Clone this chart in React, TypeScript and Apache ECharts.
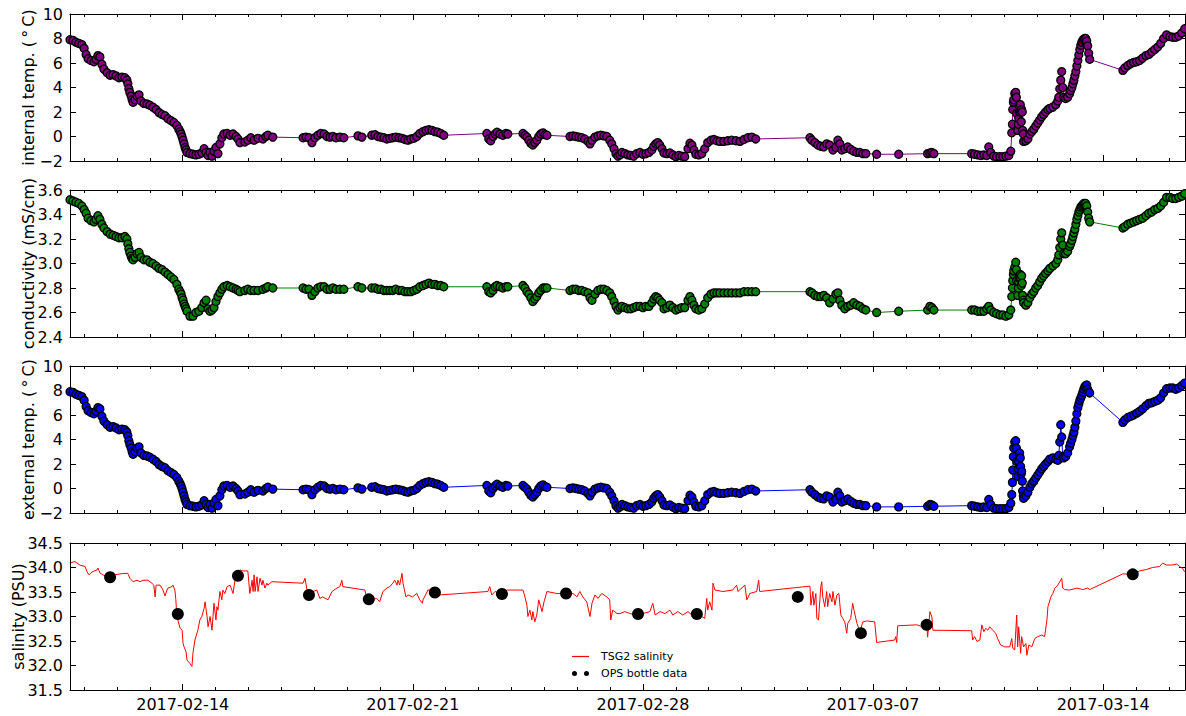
import React, { useEffect, useRef } from "react";
import * as echarts from "echarts";

// Time is counted in "February days": 14 = 2017-02-14 00:00, 29 = 2017-03-01, 42 = 2017-03-14
const X_MIN = 10.57;
const X_MAX = 44.49;
const weekTickDays = [14, 21, 28, 35, 42];
const dayTickDays = [11, 12, 13, 14, 15, 16, 17, 18, 19, 20, 21, 22, 23, 24, 25, 26, 27, 28, 29, 30, 31, 32, 33, 34, 35, 36, 37, 38, 39, 40, 41, 42, 43, 44];

// TSG sample times (shared by internal temp., conductivity and external temp.)
const sampleDays = [
  // A
  10.57, 10.66, 10.75, 10.84, 10.93, 11.0, 11.06, 11.12, 11.21, 11.3,
  11.36, 11.42, 11.48, 11.54, 11.6, 11.7, 11.79, 11.88, 11.97, 12.06,
  12.15, 12.24, 12.3, 12.36, 12.43, 12.49, 12.55, 12.61, 12.67, 12.73,
  12.82, 12.91, 13.0, 13.09, 13.19, 13.28, 13.37, 13.46, 13.55, 13.64,
  13.73, 13.82, 13.88, 13.95, 14.01, 14.07, 14.13, 14.22, 14.31, 14.4,
  14.49, 14.58, 14.65, 14.71, 14.77, 14.83, 14.89, 14.95, 15.01, 15.07,
  15.13, 15.19, 15.25, 15.35, 15.44, 15.53, 15.62, 15.68, 15.74, 15.89,
  15.98, 16.07, 16.17, 16.29, 16.44, 16.53, 16.59, 16.74,
  // B
  17.66, 17.75, 17.84, 17.93, 18.02, 18.11, 18.2, 18.3, 18.39, 18.48, 18.57, 18.66, 18.78, 18.9,
  // C
  19.33, 19.45, 19.75, 19.85, 19.94, 20.03, 20.12, 20.21, 20.3, 20.39,
  20.48, 20.58, 20.67, 20.76, 20.85, 20.94, 21.03, 21.12, 21.21, 21.31,
  21.4, 21.49, 21.58, 21.67, 21.76, 21.85, 21.94,
  // D
  23.25, 23.31, 23.37, 23.44, 23.5, 23.56, 23.65, 23.74, 23.83, 23.89,
  // E
  24.35, 24.41, 24.47, 24.53, 24.59, 24.65, 24.71, 24.77, 24.83, 24.89, 24.96, 25.02, 25.08,
  // F
  25.78, 25.87, 25.96, 26.05, 26.14, 26.23, 26.33, 26.39, 26.45, 26.54,
  26.63, 26.72, 26.81, 26.9, 26.99, 27.05, 27.12, 27.18, 27.24, 27.3,
  27.36, 27.45, 27.54, 27.63, 27.72, 27.81, 27.91, 28.0, 28.09, 28.18,
  28.27, 28.33, 28.39, 28.45, 28.51, 28.58, 28.64, 28.73, 28.82, 28.91,
  29.0, 29.09, 29.18, 29.27, 29.37, 29.43, 29.49, 29.55, 29.61, 29.7,
  29.79, 29.88, 29.97, 30.07, 30.16, 30.25, 30.34, 30.46, 30.58, 30.7,
  30.83, 30.95, 31.07, 31.19, 31.31, 31.43,
  // G
  33.08, 33.14, 33.23, 33.32, 33.41, 33.5, 33.59, 33.68, 33.78, 33.87,
  33.93, 33.99, 34.05, 34.14, 34.23, 34.32, 34.41, 34.51, 34.6, 34.69, 34.78,
  // sparse
  35.11, 35.78, 36.66, 36.73, 36.79, 36.85,
  // H
  38.0, 38.09, 38.19, 38.28, 38.37, 38.46, 38.52, 38.58, 38.67, 38.76,
  38.86, 38.95, 39.04, 39.13, 39.19, 39.22, 39.24, 39.25, 39.27, 39.28,
  39.31, 39.34, 39.36, 39.37, 39.4, 39.42, 39.43, 39.45, 39.46, 39.48,
  39.49, 39.51, 39.52, 39.54, 39.55, 39.57, 39.58, 39.65, 39.71, 39.77,
  39.83, 39.89, 39.95, 40.01, 40.07, 40.13, 40.19, 40.25, 40.32, 40.38,
  40.47, 40.56, 40.62, 40.65, 40.68, 40.71, 40.74, 40.77, 40.8, 40.86,
  40.92, 40.98, 41.05, 41.11, 41.17, 41.23, 41.29, 41.35, 41.41, 41.47,
  41.5, 41.53, 41.56, 41.59,
  // I
  42.6, 42.66, 42.75, 42.84, 42.93, 43.02, 43.11, 43.2, 43.3, 43.39,
  43.48, 43.57, 43.66, 43.75, 43.84, 43.93, 44.03, 44.12, 44.21, 44.3, 44.39, 44.48,
  // extra samples in the steep stretches
  12.33, 12.39, 12.46, 13.92, 13.98, 14.04, 14.1,
  41.01, 41.08, 41.14, 41.2, 41.26, 41.32, 41.38, 41.44,
];

const internalTemp = [
  // A
  7.9, 7.85, 7.7, 7.6, 7.5, 7.2, 6.7, 6.35, 6.2, 6.1,
  6.3, 6.6, 6.5, 5.9, 5.5, 5.2, 5.0, 5.05, 4.95, 4.8,
  4.85, 4.8, 4.6, 3.9, 3.3, 2.8, 3.0, 3.3, 3.4, 2.9,
  2.7, 2.65, 2.55, 2.4, 2.2, 1.95, 1.8, 1.7, 1.45, 1.3,
  1.15, 0.9, 0.6, 0.2, -0.3, -0.9, -1.3, -1.4, -1.45, -1.5,
  -1.45, -1.35, -1.0, -1.3, -1.55, -1.3, -1.6, -1.2, -0.9, -1.4,
  -0.6, -0.1, 0.2, 0.25, 0.1, 0.2, 0.0, -0.2, -0.5, -0.45,
  -0.3, -0.1, -0.3, -0.15, -0.2, 0.0, 0.1, -0.05,
  // B
  -0.1, -0.05, -0.1, -0.5, -0.1, 0.1, 0.25, 0.2, 0.0, -0.05, 0.0, -0.1, -0.05, -0.1,
  // C
  0.05, -0.05, 0.1, 0.15, 0.0, -0.05, -0.1, -0.2, -0.15, -0.1,
  -0.05, -0.1, -0.15, -0.25, -0.3, -0.2, -0.15, 0.0, 0.25, 0.4,
  0.5, 0.55, 0.5, 0.4, 0.35, 0.25, 0.1,
  // D
  0.25, -0.2, -0.35, 0.0, 0.2, 0.35, 0.2, 0.1, 0.25, 0.2,
  // E
  0.25, 0.1, -0.05, -0.3, -0.55, -0.7, -0.5, -0.3, 0.0, 0.2, 0.3, 0.15, 0.1,
  // F
  0.0, 0.05, 0.0, -0.05, -0.1, -0.2, -0.4, -0.6, -0.3, -0.05,
  0.05, 0.1, 0.05, 0.0, -0.3, -0.6, -1.0, -1.4, -1.6, -1.5,
  -1.3, -1.4, -1.5, -1.55, -1.6, -1.4, -1.3, -1.45, -1.4, -1.3,
  -1.1, -0.8, -0.6, -0.5, -0.7, -1.0, -1.35, -1.4, -1.35, -1.5,
  -1.65, -1.55, -1.6, -1.65, -1.0, -0.55, -0.7, -1.1, -1.45, -1.5,
  -1.4, -1.0, -0.5, -0.3, -0.25, -0.35, -0.4, -0.4, -0.35, -0.3,
  -0.35, -0.4, -0.25, -0.1, -0.05, -0.2,
  // G
  -0.1, -0.3, -0.5, -0.7, -0.8, -0.85, -0.6, -0.7, -1.1, -0.9,
  -0.3, -0.6, -1.1, -1.0, -0.85, -1.05, -1.2, -1.3, -1.3, -1.4, -1.4,
  // sparse
  -1.45, -1.45, -1.4, -1.35, -1.3, -1.4,
  // H
  -1.4, -1.45, -1.5, -1.55, -1.5, -1.55, -0.85, -1.3, -1.6, -1.65,
  -1.65, -1.65, -1.6, -1.55, -1.2, 0.3, 1.0, 2.2, 2.8, 3.0,
  3.5, 3.6, 3.2, 1.9, 0.5, 1.0, 1.5, 2.0, 2.4, 2.6,
  2.0, 1.2, 2.2, 2.0, 0.5, 0.2, -0.4, -0.35, -0.2, 0.2,
  0.4, 0.6, 0.85, 1.1, 1.35, 1.6, 1.8, 2.0, 2.2, 2.3,
  2.4, 2.6, 2.9, 3.2, 3.9, 4.6, 5.3, 4.0, 3.2, 3.1,
  3.2, 3.5, 4.0, 4.6, 5.3, 6.2, 7.1, 7.7, 7.95, 8.0,
  7.8, 7.4, 6.8, 6.3,
  // I
  5.4, 5.6, 5.8, 5.95, 6.05, 6.1, 6.2, 6.4, 6.6, 6.7,
  6.9, 7.1, 7.3, 7.6, 8.0, 8.3, 8.15, 8.1, 8.1, 8.2, 8.45, 8.8,
  // extra
  4.3, 3.6, 3.0, 0.4, -0.05, -0.6, -1.1,
  3.75, 4.3, 4.95, 5.75, 6.65, 7.45, 7.85, 8.0,
];

const conductivity = [
  // A
  3.52, 3.51, 3.5, 3.49, 3.47, 3.44, 3.41, 3.37, 3.35, 3.34,
  3.36, 3.39, 3.36, 3.32, 3.29, 3.26, 3.24, 3.23, 3.22, 3.21,
  3.21, 3.22, 3.2, 3.12, 3.06, 3.03, 3.05, 3.08, 3.09, 3.05,
  3.03, 3.03, 3.01, 3.0, 2.98, 2.96, 2.95, 2.93, 2.91, 2.89,
  2.87, 2.83, 2.79, 2.75, 2.7, 2.65, 2.61, 2.57, 2.57, 2.6,
  2.61, 2.64, 2.68, 2.7, 2.63, 2.61, 2.62, 2.64, 2.69, 2.73,
  2.76, 2.79, 2.81, 2.82, 2.81, 2.8, 2.79, 2.78, 2.77, 2.78,
  2.79, 2.78, 2.78, 2.78, 2.79, 2.8, 2.81, 2.8,
  // B
  2.8, 2.79, 2.79, 2.74, 2.77, 2.8, 2.81, 2.81, 2.79, 2.79, 2.8, 2.79, 2.79, 2.79,
  // C
  2.81, 2.8, 2.8, 2.8, 2.79, 2.79, 2.78, 2.78, 2.78, 2.78,
  2.79, 2.78, 2.78, 2.77, 2.77, 2.77, 2.78, 2.79, 2.81, 2.82,
  2.83, 2.84, 2.83, 2.83, 2.82, 2.82, 2.81,
  // D
  2.81, 2.77, 2.76, 2.78, 2.81, 2.82, 2.81, 2.8, 2.81, 2.81,
  // E
  2.82, 2.8, 2.77, 2.75, 2.72, 2.69, 2.71, 2.73, 2.76, 2.78, 2.8, 2.8, 2.8,
  // F
  2.78, 2.79, 2.79, 2.78, 2.78, 2.77, 2.76, 2.72, 2.7, 2.75,
  2.78, 2.79, 2.79, 2.78, 2.76, 2.73, 2.69, 2.65, 2.62, 2.64,
  2.65, 2.64, 2.63, 2.63, 2.64, 2.65, 2.65, 2.64, 2.65, 2.65,
  2.68, 2.71, 2.73, 2.72, 2.7, 2.68, 2.63, 2.64, 2.66, 2.64,
  2.62, 2.63, 2.64, 2.64, 2.7, 2.73, 2.7, 2.66, 2.63, 2.62,
  2.63, 2.67, 2.72, 2.75, 2.76, 2.76, 2.76, 2.76, 2.76, 2.76,
  2.76, 2.76, 2.77, 2.77, 2.77, 2.77,
  // G
  2.77, 2.76, 2.74, 2.73, 2.73, 2.74, 2.72, 2.68, 2.71, 2.75,
  2.76, 2.7, 2.66, 2.63, 2.65, 2.66, 2.68, 2.66, 2.65, 2.63, 2.62,
  // sparse
  2.6, 2.61, 2.62, 2.65, 2.64, 2.62,
  // H
  2.62, 2.62, 2.61, 2.61, 2.61, 2.63, 2.65, 2.62, 2.6, 2.59,
  2.58, 2.58, 2.57, 2.58, 2.62, 2.73, 2.8, 2.86, 2.91, 2.94,
  2.97, 3.01, 2.95, 2.86, 2.74, 2.8, 2.85, 2.88, 2.9, 2.91,
  2.88, 2.82, 2.9, 2.84, 2.74, 2.7, 2.68, 2.66, 2.68, 2.72,
  2.75, 2.77, 2.8, 2.82, 2.85, 2.88, 2.9, 2.92, 2.94, 2.96,
  2.98, 3.0, 3.03, 3.07, 3.13, 3.2, 3.25, 3.15, 3.08, 3.08,
  3.1, 3.14, 3.19, 3.25, 3.32, 3.39, 3.44, 3.47, 3.49, 3.49,
  3.47, 3.42, 3.37, 3.34,
  // I
  3.29, 3.3, 3.32, 3.33, 3.34, 3.35, 3.36, 3.37, 3.39, 3.41,
  3.42, 3.44, 3.45, 3.47, 3.5, 3.54, 3.54, 3.53, 3.53, 3.54, 3.55, 3.57,
  // extra
  3.16, 3.09, 3.04, 2.77, 2.72, 2.67, 2.63,
  3.16, 3.22, 3.28, 3.36, 3.42, 3.46, 3.48, 3.49,
];

const externalTemp = [
  // A
  7.9, 7.85, 7.7, 7.6, 7.5, 7.2, 6.7, 6.35, 6.2, 6.1,
  6.3, 6.6, 6.5, 5.9, 5.5, 5.2, 5.0, 5.05, 4.95, 4.8,
  4.85, 4.8, 4.6, 3.9, 3.3, 2.8, 3.0, 3.3, 3.4, 2.9,
  2.7, 2.65, 2.55, 2.4, 2.2, 1.95, 1.8, 1.7, 1.45, 1.3,
  1.15, 0.9, 0.6, 0.2, -0.3, -0.9, -1.3, -1.4, -1.45, -1.5,
  -1.45, -1.35, -1.0, -1.3, -1.55, -1.3, -1.6, -1.2, -0.9, -1.4,
  -0.6, -0.1, 0.2, 0.25, 0.1, 0.2, 0.0, -0.2, -0.5, -0.45,
  -0.3, -0.1, -0.3, -0.15, -0.2, 0.0, 0.1, -0.05,
  // B
  -0.1, -0.05, -0.1, -0.5, -0.1, 0.1, 0.25, 0.2, 0.0, -0.05, 0.0, -0.1, -0.05, -0.1,
  // C
  0.05, -0.05, 0.1, 0.15, 0.0, -0.05, -0.1, -0.2, -0.15, -0.1,
  -0.05, -0.1, -0.15, -0.25, -0.3, -0.2, -0.15, 0.0, 0.25, 0.4,
  0.5, 0.55, 0.5, 0.4, 0.35, 0.25, 0.1,
  // D
  0.25, -0.2, -0.35, 0.0, 0.2, 0.35, 0.2, 0.1, 0.25, 0.2,
  // E
  0.25, 0.1, -0.05, -0.3, -0.55, -0.7, -0.5, -0.3, 0.0, 0.2, 0.3, 0.15, 0.1,
  // F
  0.0, 0.05, 0.0, -0.05, -0.1, -0.2, -0.4, -0.6, -0.3, -0.05,
  0.05, 0.1, 0.05, 0.0, -0.3, -0.6, -1.0, -1.4, -1.6, -1.5,
  -1.3, -1.4, -1.5, -1.55, -1.6, -1.4, -1.3, -1.45, -1.4, -1.3,
  -1.1, -0.8, -0.6, -0.5, -0.7, -1.0, -1.35, -1.4, -1.35, -1.5,
  -1.65, -1.55, -1.6, -1.65, -1.0, -0.55, -0.7, -1.1, -1.45, -1.5,
  -1.4, -1.0, -0.5, -0.3, -0.25, -0.35, -0.4, -0.4, -0.35, -0.3,
  -0.35, -0.4, -0.25, -0.1, -0.05, -0.2,
  // G
  -0.1, -0.3, -0.5, -0.7, -0.8, -0.85, -0.6, -0.7, -1.1, -0.9,
  -0.3, -0.6, -1.1, -1.0, -0.85, -1.05, -1.2, -1.3, -1.3, -1.4, -1.4,
  // sparse
  -1.5, -1.5, -1.45, -1.3, -1.35, -1.45,
  // H
  -1.4, -1.45, -1.5, -1.55, -1.5, -1.55, -0.9, -1.3, -1.6, -1.65,
  -1.65, -1.65, -1.65, -1.55, -1.2, -0.5, 0.5, 1.5, 2.6, 3.3,
  3.8, 3.9, 3.3, 2.2, 1.0, 1.6, 2.2, 2.7, 2.9, 2.5,
  1.8, 1.2, 1.4, 0.6, -0.2, -0.6, -0.8, -0.6, -0.3, 0.1,
  0.4, 0.6, 0.85, 1.1, 1.35, 1.6, 1.8, 2.0, 2.2, 2.4,
  2.5, 2.4, 2.3, 2.7, 3.8, 5.2, 4.2, 2.6, 2.5, 2.6,
  2.9, 3.4, 4.0, 4.6, 5.5, 6.6, 7.2, 7.6, 8.1, 8.4,
  8.45, 8.1, 7.9, 7.8,
  // I
  5.4, 5.6, 5.8, 5.9, 6.0, 6.15, 6.3, 6.5, 6.75, 6.95,
  7.0, 7.1, 7.2, 7.4, 7.8, 8.15, 8.2, 8.2, 8.1, 8.2, 8.4, 8.6,
  // extra
  4.3, 3.6, 3.0, 0.4, -0.05, -0.6, -1.1,
  3.7, 4.3, 5.0, 6.1, 6.9, 7.4, 7.85, 8.3,
];

// TSG2 salinity record
const salinityDays = [
  10.6, 10.72, 10.87, 11.03, 11.09, 11.15, 11.24, 11.39, 11.42, 11.48,
  11.57, 11.73, 11.94, 12.09, 12.24, 12.33, 12.39, 12.49, 12.61, 12.7,
  12.79, 12.94, 13.06, 13.12, 13.16, 13.19, 13.31, 13.4, 13.46, 13.52,
  13.55, 13.67, 13.7, 13.76, 13.79, 13.82, 13.85, 13.92, 13.98, 14.01,
  14.04, 14.1, 14.13, 14.22, 14.28, 14.31, 14.37, 14.46, 14.52, 14.58,
  14.65, 14.68, 14.74, 14.77, 14.83, 14.89, 14.92, 14.95, 15.01, 15.04,
  15.07, 15.13, 15.19, 15.22, 15.28, 15.35, 15.44, 15.53, 15.59, 15.65,
  15.68, 15.74, 15.83, 15.98, 16.04, 16.11, 16.14, 16.17, 16.2, 16.26,
  16.29, 16.35, 16.41, 16.44, 16.5, 16.56, 16.59, 16.71,
  17.66, 17.72, 17.78, 17.87, 17.96, 18.08, 18.17, 18.26, 18.42, 18.54,
  18.69, 18.78, 18.84, 18.87,
  19.54, 19.6, 19.75, 19.9, 19.99, 20.09, 20.21, 20.3, 20.39, 20.45,
  20.52, 20.55, 20.6, 20.67, 20.7, 20.79, 20.85, 20.99, 21.12, 21.21,
  21.29, 21.31, 21.46, 21.58, 21.67, 21.82,
  23.28, 23.34, 23.4, 23.5, 23.65, 23.71, 23.86,
  24.35, 24.41, 24.47, 24.5, 24.56, 24.62, 24.65, 24.71, 24.77, 24.83,
  24.93, 24.99, 25.08, 25.38, 25.66, 25.87, 25.99, 26.08, 26.17, 26.29,
  26.39, 26.45, 26.54, 26.63, 26.75, 26.9, 26.99, 27.02, 27.08, 27.21,
  27.3, 27.45, 27.6, 27.81, 28.0, 28.21, 28.3, 28.37, 28.52, 28.67,
  28.82, 28.91, 29.06, 29.21, 29.37, 29.52, 29.64, 29.79, 29.88, 29.94,
  29.97, 30.03, 30.1, 30.13, 30.19, 30.43, 30.73, 30.85, 30.89, 31.1,
  31.16, 31.25, 31.46, 31.52, 31.55,
  33.08, 33.11, 33.17, 33.2, 33.26, 33.29, 33.34, 33.41, 33.44, 33.47,
  33.53, 33.59, 33.62, 33.68, 33.75, 33.78, 33.84, 33.9, 33.96, 34.02,
  34.08, 34.14, 34.2, 34.23, 34.32, 34.38, 34.43, 34.51, 34.6, 34.69,
  34.81, 35.05, 35.11, 35.66, 35.69, 35.72, 35.75, 36.33, 36.51, 36.63,
  36.66, 36.73, 36.79, 36.82,
  38.0, 38.03, 38.09, 38.16, 38.25, 38.31, 38.37, 38.43, 38.49, 38.55,
  38.64, 38.73, 38.79, 38.88, 39.01, 39.16, 39.22, 39.25, 39.31, 39.37,
  39.4, 39.43, 39.49, 39.52, 39.58, 39.65, 39.68, 39.74, 39.83, 39.92,
  40.01, 40.13, 40.22, 40.29, 40.32, 40.41, 40.47, 40.53, 40.62, 40.74,
  40.77, 40.83, 40.98, 41.2, 41.38, 41.53, 41.59,
  42.6, 42.9, 43.11, 43.32, 43.5, 43.72, 43.81, 43.93, 44.08, 44.24,
  44.33, 44.42, 44.48,
];

const salinity = [
  34.1, 34.12, 34.05, 34.02, 33.91, 33.85, 33.91, 33.95, 33.99, 33.89,
  33.85, 33.81, 33.85, 33.87, 33.88, 33.88, 33.78, 33.71, 33.74, 33.71,
  33.74, 33.74, 33.68, 33.64, 33.4, 33.64, 33.64, 33.54, 33.42, 33.54,
  33.58, 33.61, 33.64, 33.54, 33.34, 33.0, 32.93, 32.76, 32.72, 32.45,
  32.38, 32.28, 32.11, 32.04, 31.98, 32.25, 32.52, 32.72, 32.93, 33.0,
  33.17, 33.3, 33.0, 32.79, 33.0, 32.72, 33.0, 33.27, 32.93, 33.2,
  33.13, 33.51, 33.34, 33.54, 33.47, 33.61, 33.64, 33.47, 33.74, 33.85,
  33.91, 33.95, 33.93, 33.93, 33.47, 33.74, 33.51, 33.85, 33.51, 33.81,
  33.51, 33.78, 33.64, 33.74, 33.58, 33.68, 33.64, 33.71,
  33.68, 33.78, 33.54, 33.47, 33.51, 33.54, 33.37, 33.4, 33.34, 33.51,
  33.58, 33.61, 33.74, 33.61,
  33.54, 33.37, 33.34, 33.37, 33.3, 33.51, 33.58, 33.61, 33.68, 33.74,
  33.64, 33.74, 33.64, 33.88, 33.68, 33.4, 33.44, 33.4, 33.47, 33.34,
  33.27, 33.34, 33.54, 33.54, 33.49, 33.44,
  33.51, 33.61, 33.44, 33.51, 33.47, 33.46, 33.54,
  33.54, 33.4, 33.23, 33.0, 33.13, 32.93, 33.1, 32.89, 33.03, 33.34,
  33.1, 33.3, 33.51, 33.47, 33.47, 33.47, 33.4, 33.51, 33.4, 33.3,
  33.0, 33.27, 33.44, 33.37, 33.47, 33.4, 33.34, 32.93, 33.13, 33.06,
  33.06, 33.1, 33.06, 33.03, 33.06, 33.1, 33.27, 33.03, 33.1, 33.06,
  33.13, 33.03, 33.1, 33.03, 33.1, 33.01, 33.05, 33.0, 32.96, 33.37,
  33.13, 33.3, 33.13, 33.68, 33.54, 33.51, 33.54, 33.64, 33.51, 33.64,
  33.34, 33.47, 33.51, 33.74, 33.51,
  33.62, 33.23, 33.51, 33.23, 33.47, 32.96, 32.93, 33.61, 33.71, 33.4,
  33.2, 33.51, 33.2, 33.47, 33.3, 33.51, 33.23, 33.44, 33.47, 33.03,
  32.96, 32.89, 32.66, 32.86, 32.96, 33.27, 33.1, 32.86, 32.69, 32.89,
  32.91, 32.89, 32.47, 32.52, 32.59, 32.47, 32.81, 32.83, 32.79, 32.86,
  32.58, 33.1, 32.99, 32.72,
  32.71, 32.52, 32.59, 32.49, 32.52, 32.83, 32.69, 32.76, 32.72, 32.79,
  32.72, 32.66, 32.55, 32.42, 32.38, 32.38, 32.55, 32.35, 32.32, 33.03,
  32.38, 32.79, 32.25, 32.59, 32.38, 32.45, 32.21, 32.42, 32.38, 32.55,
  32.59, 32.62, 32.59, 32.93, 33.2, 33.4, 33.47, 33.58, 33.64, 33.78,
  33.58, 33.55, 33.54, 33.58, 33.55, 33.58, 33.55,
  33.87, 33.86, 33.93, 33.96, 34.0, 34.02, 34.09, 34.05, 34.05, 34.07,
  34.02, 33.98, 33.91,
];

// OPS bottle samples
const bottleDays = [11.79, 13.85, 15.68, 17.84, 19.66, 21.67, 23.71, 25.66, 27.85, 29.64, 32.71, 34.63, 36.63, 42.9];
const bottleSalinity = [33.8, 33.05, 33.83, 33.44, 33.35, 33.49, 33.46, 33.47, 33.05, 33.05, 33.4, 32.66, 32.83, 33.86];

const FONT = "DejaVu Sans";

function dayLabel(v: number): string {
  const d = Math.round(v);
  const pad = (n: number) => (n < 10 ? "0" + n : "" + n);
  return d <= 28 ? `2017-02-${pad(d)}` : `2017-03-${pad(d - 28)}`;
}

// pairs sorted by time
function pairs(xs: number[], ys: number[]) {
  const n = Math.min(xs.length, ys.length);
  const out: number[][] = [];
  for (let i = 0; i < n; i++) out.push([xs[i], ys[i]]);
  out.sort((a, b) => a[0] - b[0]);
  return out;
}

export default function App() {
  const ref = useRef<HTMLDivElement>(null);

  useEffect(() => {
    if (!ref.current) return;
    const chart = echarts.init(ref.current, null, { renderer: "svg" });

    const panels = [
      { top: 14, min: -2, max: 10, interval: 2, name: "internal temp. (\u2009\u00B0\u2009C)", gap: 34, digits: 0 },
      { top: 190, min: 2.4, max: 3.6, interval: 0.2, name: "conductivity (mS/cm)", gap: 34, digits: 1 },
      { top: 366, min: -2, max: 10, interval: 2, name: "external temp. (\u2009\u00B0\u2009C)", gap: 34, digits: 0 },
      { top: 543, min: 31.5, max: 34.5, interval: 0.5, name: "salinity (PSU)", gap: 44, digits: 1 },
    ];

    const black = "#000";
    const grid = panels.map((p) => ({
      left: 70,
      right: 1,
      top: p.top,
      height: 147,
      containLabel: false,
      outerBoundsMode: "none",
    }));

    const xAxis: any[] = [];
    const yAxis: any[] = [];
    panels.forEach((p, g) => {
      const base = {
        type: "value",
        gridIndex: g,
        min: X_MIN,
        max: X_MAX,
        splitLine: { show: false },
        silent: true,
      };
      const isLast = g === panels.length - 1;
      xAxis.push({
        ...base,
        position: "bottom",
        axisLine: { show: true, onZero: false, lineStyle: { color: black, width: 1 } },
        axisTick: { show: true, inside: true, length: 6, customValues: weekTickDays, lineStyle: { color: black, width: 1 } },
        axisLabel: {
          show: isLast,
          customValues: weekTickDays,
          formatter: (v: number) => dayLabel(v),
          margin: 6,
          fontSize: 16,
          fontFamily: FONT,
          color: black,
        },
      });
      xAxis.push({
        ...base,
        position: "bottom",
        axisLine: { show: false, onZero: false },
        axisTick: { show: true, inside: true, length: 3, customValues: dayTickDays, lineStyle: { color: black, width: 1 } },
        axisLabel: { show: false },
      });
      xAxis.push({
        ...base,
        position: "top",
        axisLine: { show: true, onZero: false, lineStyle: { color: black, width: 1 } },
        axisTick: { show: true, inside: true, length: 6, customValues: weekTickDays, lineStyle: { color: black, width: 1 } },
        axisLabel: { show: false },
      });
      xAxis.push({
        ...base,
        position: "top",
        axisLine: { show: false, onZero: false },
        axisTick: { show: true, inside: true, length: 3, customValues: dayTickDays, lineStyle: { color: black, width: 1 } },
        axisLabel: { show: false },
      });

      const ybase = {
        type: "value",
        gridIndex: g,
        min: p.min,
        max: p.max,
        interval: p.interval,
        splitLine: { show: false },
        silent: true,
      };
      yAxis.push({
        ...ybase,
        position: "left",
        name: p.name,
        nameLocation: "middle",
        nameRotate: 90,
        nameGap: p.gap,
        nameMoveOverlap: false,
        nameTextStyle: { fontSize: 16, fontFamily: FONT, color: black },
        axisLine: { show: true, onZero: false, lineStyle: { color: black, width: 1 } },
        axisTick: { show: true, inside: true, length: 6, lineStyle: { color: black, width: 1 } },
        axisLabel: {
          margin: 7,
          fontSize: 16,
          fontFamily: FONT,
          color: black,
          formatter: (v: number) => v.toFixed(p.digits).replace("-", "\u2212"),
        },
      });
      yAxis.push({
        ...ybase,
        position: "right",
        axisLine: { show: true, onZero: false, lineStyle: { color: black, width: 1 } },
        axisTick: { show: true, inside: true, length: 6, lineStyle: { color: black, width: 1 } },
        axisLabel: { show: false },
      });
    });

    const markerSeries = (g: number, name: string, ys: number[], color: string) => ({
      type: "line",
      name,
      xAxisIndex: 4 * g,
      yAxisIndex: 2 * g,
      data: pairs(sampleDays, ys),
      symbol: "circle",
      symbolSize: 8,
      showSymbol: true,
      showAllSymbol: true,
      lineStyle: { color, width: 1 },
      itemStyle: { color, borderColor: black, borderWidth: 1.3, opacity: 1 },
      silent: true,
      clip: true,
      z: 2,
    });

    const OPS_ICON =
      "path://M0,2.5A2.5,2.5,0,1,1,5,2.5A2.5,2.5,0,1,1,0,2.5Z M12,2.5A2.5,2.5,0,1,1,17,2.5A2.5,2.5,0,1,1,12,2.5Z";
    const LINE_ICON = "path://M0,0H17V1.2H0Z";

    const legendText = { fontSize: 11, fontFamily: FONT, color: black, padding: [0, 0, 0, 7] };

    const option: any = {
      animation: false,
      backgroundColor: "#fff",
      textStyle: { fontFamily: FONT },
      grid,
      xAxis,
      yAxis,
      legend: [
        {
          data: [{ name: "TSG2 salinity", icon: LINE_ICON }],
          left: 572,
          top: 651,
          orient: "vertical",
          itemWidth: 17,
          itemHeight: 1.2,
          padding: 0,
          selectedMode: false,
          textStyle: legendText,
        },
        {
          data: [{ name: "OPS bottle data", icon: OPS_ICON }],
          left: 572,
          top: 668,
          orient: "vertical",
          itemWidth: 17,
          itemHeight: 5,
          padding: 0,
          selectedMode: false,
          textStyle: legendText,
        },
      ],
      series: [
        markerSeries(0, "internal temp.", internalTemp, "#800080"),
        markerSeries(1, "conductivity", conductivity, "#008000"),
        markerSeries(2, "external temp.", externalTemp, "#0000ff"),
        {
          type: "line",
          name: "TSG2 salinity",
          xAxisIndex: 12,
          yAxisIndex: 6,
          data: pairs(salinityDays, salinity),
          symbol: "none",
          showSymbol: false,
          lineStyle: { color: "#ff0000", width: 1 },
          itemStyle: { color: "#ff0000" },
          silent: true,
          clip: true,
        },
        {
          type: "scatter",
          name: "OPS bottle data",
          xAxisIndex: 12,
          yAxisIndex: 6,
          data: pairs(bottleDays, bottleSalinity),
          symbol: "circle",
          symbolSize: 12,
          itemStyle: { color: black, opacity: 1 },
          silent: true,
          z: 3,
        },
      ],
    };

    chart.setOption(option);
    return () => chart.dispose();
  }, []);

  return (
    <div
      ref={ref}
      style={{ position: "fixed", left: 0, top: 0, width: 1186, height: 716, background: "#fff" }}
    />
  );
}
